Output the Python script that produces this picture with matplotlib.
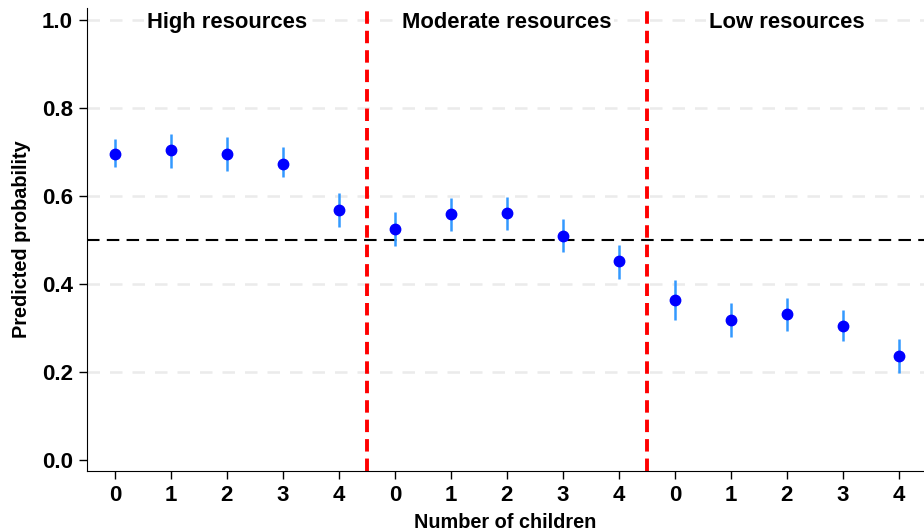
import matplotlib
matplotlib.use("Agg")
import matplotlib.pyplot as plt
import numpy as np

plt.rcParams['font.family'] = ['Liberation Sans', 'DejaVu Sans']
plt.rcParams['font.weight'] = 'bold'

groups = ["High resources", "Moderate resources", "Low resources"]
children = [0, 1, 2, 3, 4]

high_est = [0.695, 0.704, 0.695, 0.673, 0.568]
high_lo = [0.666, 0.664, 0.657, 0.643, 0.530]
high_hi = [0.730, 0.741, 0.734, 0.711, 0.607]

mod_est = [0.525, 0.558, 0.561, 0.510, 0.451]
mod_lo = [0.486, 0.520, 0.523, 0.473, 0.411]
mod_hi = [0.564, 0.595, 0.597, 0.548, 0.489]

low_est = [0.364, 0.318, 0.331, 0.305, 0.236]
low_lo = [0.318, 0.280, 0.292, 0.270, 0.198]
low_hi = [0.409, 0.356, 0.368, 0.341, 0.274]

yticks = [0.0, 0.2, 0.4, 0.6, 0.8, 1.0]

fig = plt.figure(figsize=(9.24, 5.31), dpi=100)
ax = fig.add_axes([0.094, 0.113, 0.906, 0.872])

series = [(high_est, high_lo, high_hi), (mod_est, mod_lo, mod_hi), (low_est, low_lo, low_hi)]
for g, (est, lo, hi) in enumerate(series):
    x = np.arange(len(children)) + g * len(children)
    ax.vlines(x, lo, hi, color='#3399ff', lw=1.8, zorder=3)
    ax.plot(x, est, 'o', color='#0000ff', ms=7.5, zorder=4)
    # panel title sits on the top gridline
    ax.text(g * len(children) + 2, 0.995, groups[g], ha='center', va='center',
            fontsize=15.8, fontweight='bold', zorder=5,
            bbox=dict(facecolor='white', edgecolor='none', pad=2))

for v in yticks[1:]:
    ax.axhline(v, color='#ebebeb', lw=1.8, ls=(0, (5, 4)), zorder=1)
ax.axhline(0.5, color='black', lw=1.5, ls=(0, (6, 3.5)), zorder=2)
for b in [4.5, 9.5]:
    ax.axvline(b, color='#ff0000', lw=2.8, ls=(0, (3.2, 1.8)), zorder=2)

ax.set_xlim(-0.5, 14.45)
ax.set_ylim(-0.025, 1.027)
ax.set_xticks(range(15))
ax.set_xticklabels([str(c) for c in children] * 3)
ax.set_yticks(yticks)
ax.set_yticklabels([f"{v:.1f}" for v in yticks])
ax.tick_params(labelsize=16, length=6, width=1, pad=4)
for lab in ax.get_xticklabels() + ax.get_yticklabels():
    lab.set_fontweight('bold')

ax.spines['top'].set_visible(False)
ax.spines['right'].set_visible(False)
ax.set_xlabel("Number of children", fontsize=14.3, fontweight='bold', labelpad=5)
ax.set_ylabel("Predicted probability", fontsize=14.3, fontweight='bold', labelpad=8)

fig.savefig("out.png", dpi=100)
